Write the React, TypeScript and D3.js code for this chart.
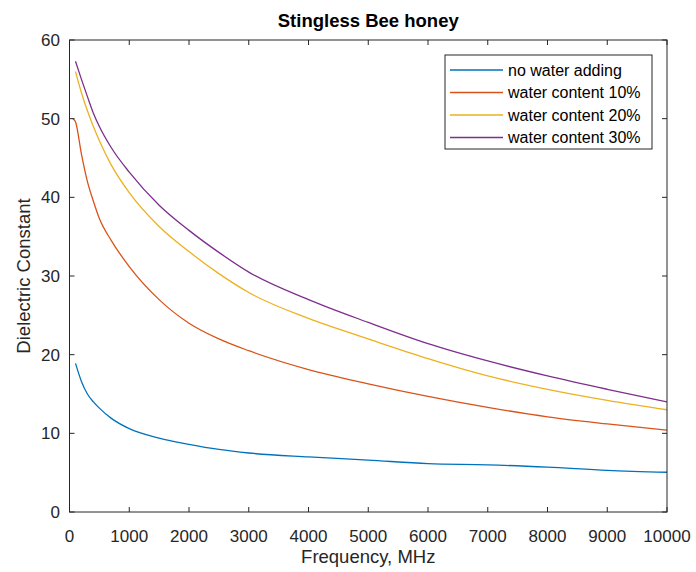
import React from "react";
import * as d3 from "d3";

const freqs = [100, 200, 300, 400, 500, 700, 1000, 1500, 2000, 2500, 3000, 4000, 5000, 6000, 7000, 8000, 9000, 10000];
const noWater = [18.9, 16.6, 15.0, 14.0, 13.2, 11.9, 10.6, 9.4, 8.6, 7.95, 7.5, 7.0, 6.6, 6.15, 6.0, 5.7, 5.3, 5.05];
const water10Freqs = [55, 100, 200, 300, 400, 500, 700, 1000, 1500, 2000, 2500, 3000, 4000, 5000, 6000, 7000, 8000, 9000, 10000];
const water10 = [50, 49.6, 45.5, 42.0, 39.5, 37.3, 34.5, 31.2, 27.0, 24.0, 22.0, 20.5, 18.1, 16.3, 14.7, 13.3, 12.1, 11.2, 10.4];
const water20 = [56, 53.3, 51, 49, 47.2, 44.1, 40.6, 36.3, 33.1, 30.3, 27.9, 24.6, 22.0, 19.5, 17.3, 15.6, 14.2, 13.0];
const water30 = [57.3, 55, 52.8, 50.7, 49, 46.3, 43.2, 39, 35.8, 33.0, 30.5, 27, 24.1, 21.4, 19.2, 17.3, 15.6, 14.0];

const seriesNames = ["no water adding", "water content 10%", "water content 20%", "water content 30%"];
const seriesColors = ["#0072BD", "#D95319", "#EDB120", "#7E2F8E"];
const xTicks = [0, 1000, 2000, 3000, 4000, 5000, 6000, 7000, 8000, 9000, 10000];
const yTicks = [0, 10, 20, 30, 40, 50, 60];

const W = 696, H = 572;
const L = 69.5, R = 667, T = 40, B = 512;
const FONT = "'Liberation Sans', Arial, Helvetica, sans-serif";
const AX = "#262626";

export default function App() {
  const x = d3.scaleLinear().domain([0, 10000]).range([L, R]);
  const y = d3.scaleLinear().domain([0, 60]).range([B, T]);
  const line = d3
    .line<[number, number]>()
    .x((d) => x(d[0]))
    .y((d) => y(d[1]))
    .curve(d3.curveMonotoneX);

  const series: [number, number][][] = [
    freqs.map((f, i) => [f, noWater[i]]),
    water10Freqs.map((f, i) => [f, water10[i]]),
    freqs.map((f, i) => [f, water20[i]]),
    freqs.map((f, i) => [f, water30[i]]),
  ];

  const tl = 5;
  const legX = 445, legY = 55, legW = 207, legH = 94;
  const rowY = [70, 92.5, 115, 137.5];

  return (
    <svg
      width={W}
      height={H}
      style={{ position: "absolute", left: 0, top: 0, background: "#fff" }}
      fontFamily={FONT}
    >
      <rect x={0} y={0} width={W} height={H} fill="#fff" />
      <defs>
        <clipPath id="clip">
          <rect x={L} y={T} width={R - L} height={B - T} />
        </clipPath>
      </defs>
      <g clipPath="url(#clip)">
        {series.map((s, i) => (
          <path key={i} d={line(s) || ""} fill="none" stroke={seriesColors[i]} strokeWidth={1.3} />
        ))}
      </g>
      <rect x={L} y={T} width={R - L} height={B - T} fill="none" stroke={AX} strokeWidth={1} />
      {xTicks.map((t) => (
        <g key={"x" + t}>
          <line x1={x(t)} x2={x(t)} y1={B} y2={B - tl} stroke={AX} strokeWidth={1} />
          <line x1={x(t)} x2={x(t)} y1={T} y2={T + tl} stroke={AX} strokeWidth={1} />
          <text x={x(t)} y={542} textAnchor="middle" fontSize={17} fill={AX}>
            {t}
          </text>
        </g>
      ))}
      {yTicks.map((t) => (
        <g key={"y" + t}>
          <line x1={L} x2={L + tl} y1={y(t)} y2={y(t)} stroke={AX} strokeWidth={1} />
          <line x1={R} x2={R - tl} y1={y(t)} y2={y(t)} stroke={AX} strokeWidth={1} />
          <text x={60} y={y(t) + 6} textAnchor="end" fontSize={17} fill={AX}>
            {t}
          </text>
        </g>
      ))}
      <text x={(L + R) / 2} y={27} textAnchor="middle" fontSize={18.5} fontWeight="bold" fill="#000">
        Stingless Bee honey
      </text>
      <text x={(L + R) / 2} y={563} textAnchor="middle" fontSize={18.5} fill={AX}>
        Frequency, MHz
      </text>
      <text
        transform={`translate(30, ${(T + B) / 2}) rotate(-90)`}
        textAnchor="middle"
        fontSize={18.5}
        fill={AX}
      >
        Dielectric Constant
      </text>
      <rect x={legX} y={legY} width={legW} height={legH} fill="#fff" stroke={AX} strokeWidth={1} />
      {seriesNames.map((n, i) => (
        <g key={n}>
          <line x1={450} x2={503} y1={rowY[i]} y2={rowY[i]} stroke={seriesColors[i]} strokeWidth={1.3} />
          <text x={508} y={rowY[i] + 5.5} fontSize={16} fill="#000">
            {n}
          </text>
        </g>
      ))}
    </svg>
  );
}
